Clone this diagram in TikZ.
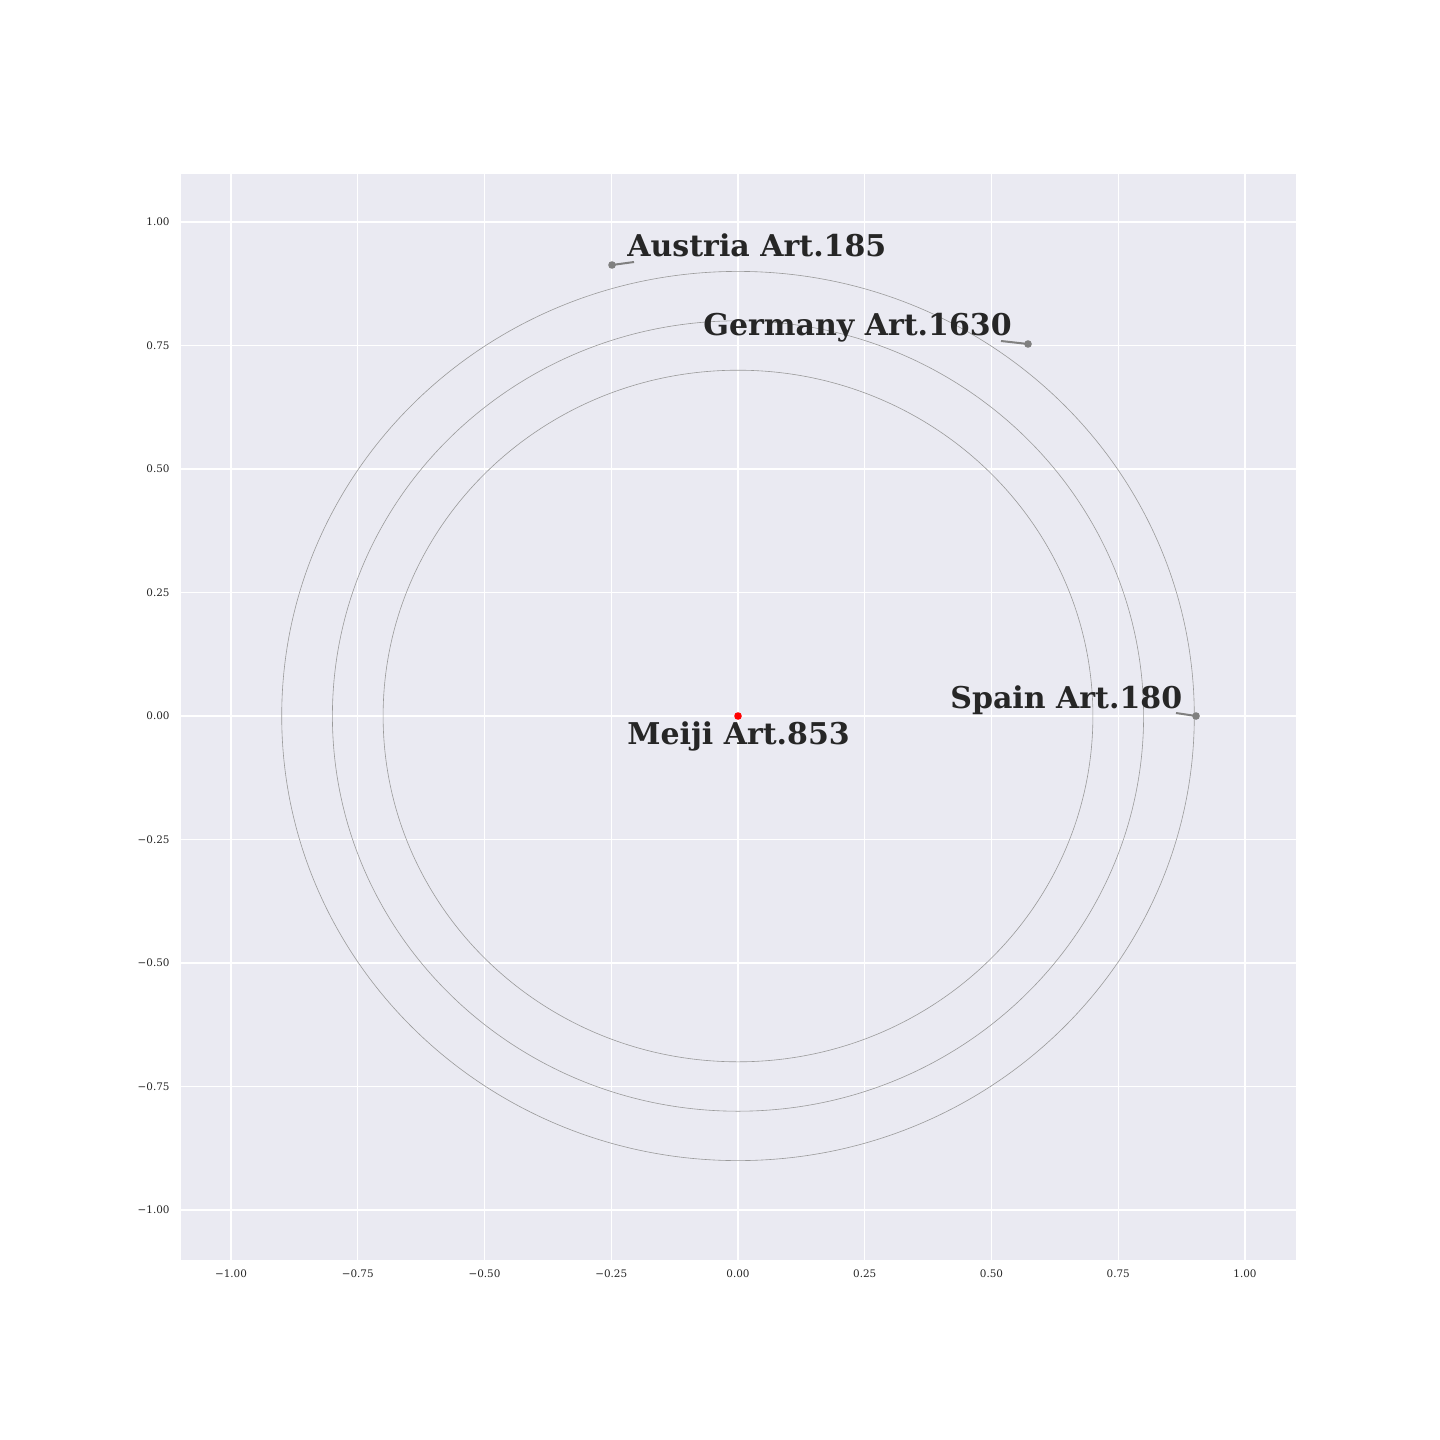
\documentclass[tikz,border=0pt]{standalone}
\usepackage{fontspec}
\setmainfont{DejaVu Serif}
\newfontfamily\labfont{DejaVu Serif}
\definecolor{axbg}{HTML}{EAEAF2}
\definecolor{ptgray}{HTML}{808080}
\definecolor{ringgray}{HTML}{9A9A9A}
\definecolor{txt}{HTML}{262626}
\begin{document}
\begin{tikzpicture}[x=0.5pt,y=-0.5pt,
  gridline/.style={draw=white,line width=0.6pt},
  ring/.style={draw=ringgray,line width=0.3pt},
  pt/.style={circle,fill=ptgray,inner sep=0pt,minimum size=3.8pt},
  redpt/.style={circle,fill=red,inner sep=0pt,minimum size=3.8pt},
  leader/.style={draw=ptgray,line width=1pt},
  lab/.style={inner sep=0pt,anchor=base west,text=txt,font=\labfont\bfseries\fontsize{15pt}{18pt}\selectfont},
  ytick/.style={inner sep=0pt,anchor=east,text=txt,font=\fontsize{5.2pt}{6.3pt}\selectfont},
  xtick/.style={inner sep=0pt,anchor=center,text=txt,font=\fontsize{5.2pt}{6.3pt}\selectfont}]
\useasboundingbox[fill=white] (0,0) rectangle (1440,1440);
\fill[axbg] (181,174) rectangle (1296,1260);
% grid
\foreach \gx in {231,357.75,484.5,611.25,738,864.75,991.5,1118.25,1245}
  \draw[gridline] (\gx,174) -- (\gx,1260);
\foreach \gy in {222,345.5,469,592.5,716,839.5,963,1086.5,1210}
  \draw[gridline] (181,\gy) -- (1296,\gy);
% tick labels
\foreach \gx/\t in {231/−1.00,357.75/−0.75,484.5/−0.50,611.25/−0.25,738/0.00,864.75/0.25,991.5/0.50,1118.25/0.75,1245/1.00}
  \node[xtick] at (\gx,1274) {\t};
\foreach \gy/\t in {222/1.00,345.5/0.75,469/0.50,592.5/0.25,716/0.00,839.5/−0.25,963/−0.50,1086.5/−0.75,1210/−1.00}
  \node[ytick] at (170,\gy) {\t};
% rings
\draw[ring] (738,716) ellipse [x radius=228.15pt, y radius=222.3pt];
\draw[ring] (738,716) ellipse [x radius=202.8pt, y radius=197.6pt];
\draw[ring] (738,716) ellipse [x radius=177.45pt, y radius=172.9pt];
% points
\node[pt] (austria) at (612,265) {};
\node[pt] (germany) at (1028,344) {};
\node[pt] (spain) at (1196,716) {};
\node[redpt] (meiji) at (738,716) {};
\coordinate (aend) at (634,262);
\coordinate (gend) at (1001,341);
\coordinate (send) at (1176,713);
\draw[leader] (austria.center) -- (aend);
\draw[leader] (germany.center) -- (gend);
\draw[leader] (spain.center) -- (send);
% labels
\node[lab] (austrialab) at (627,256) {Austria Art.185};
\node[lab] (germanylab) at (703,335) {Germany Art.1630};
\node[lab] (spainlab) at (950,708) {Spain Art.180};
\node[lab] (meijilab) at (627,744) {Meiji Art.853};
\end{tikzpicture}
\end{document}
